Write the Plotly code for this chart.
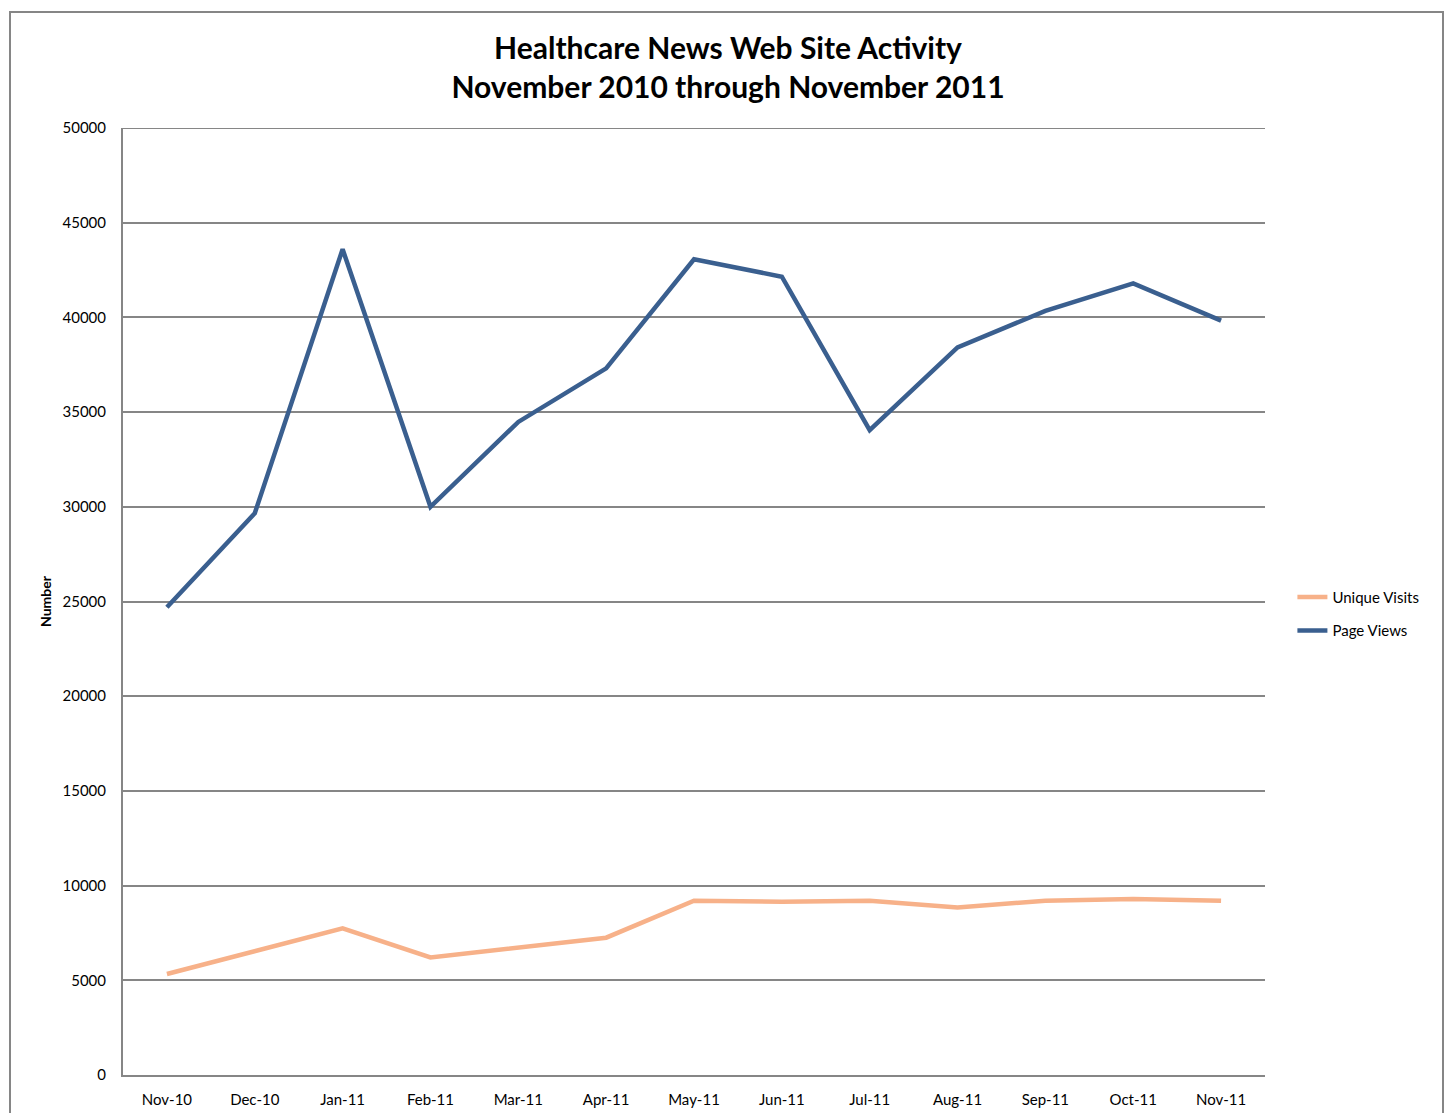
import plotly.graph_objects as go

# Monthly site activity
months = ["Nov-10", "Dec-10", "Jan-11", "Feb-11", "Mar-11", "Apr-11", "May-11",
          "Jun-11", "Jul-11", "Aug-11", "Sep-11", "Oct-11", "Nov-11"]
unique_visits = [5330, 6550, 7745, 6210, 6700, 7250, 9200,
                 9150, 9200, 8850, 9200, 9290, 9200]
page_views = [24700, 29660, 43600, 30000, 34480, 37310, 43070,
              42150, 34050, 38420, 40340, 41800, 39830]
y_ticks = [0, 5000, 10000, 15000, 20000, 25000, 30000, 35000, 40000, 45000, 50000]

FONT = "Lato, 'Open Sans', sans-serif"
GRID = "#868686"

fig = go.Figure()
fig.add_trace(go.Scatter(
    x=months, y=unique_visits, name="Unique Visits", mode="lines",
    legendgroup="uv", line=dict(color="#F7B189", width=4.5),
))
fig.add_trace(go.Scatter(
    x=months, y=page_views, name="Page Views", mode="lines",
    legendgroup="pv", line=dict(color="#3A5F8F", width=4.5),
))

fig.update_layout(
    width=1448, height=1113,
    margin=dict(l=123, r=183, t=128, b=38, autoexpand=False),
    paper_bgcolor="white", plot_bgcolor="white",
    font=dict(family=FONT, size=15, color="black"),
    title=dict(
        text="<b>Healthcare News Web Site Activity<br>November 2010 through November 2011</b>",
        x=728 / 1448, xanchor="center", xref="container",
        y=1 - 59 / 1113, yanchor="middle", yref="container",
        font=dict(family=FONT, size=30, color="black"),
    ),
    showlegend=True,
    legend=dict(
        x=1.024, xanchor="left", y=0.487, yanchor="middle",
        font=dict(family=FONT, size=15, color="black"),
        bgcolor="rgba(0,0,0,0)", tracegroupgap=11,
    ),
    xaxis=dict(
        type="category", range=[-0.5, 12.5], automargin=False,
        showgrid=False, showline=True, linecolor=GRID, linewidth=2,
        ticks="outside", ticklen=10, tickcolor="rgba(0,0,0,0)",
        tickfont=dict(family=FONT, size=15),
        fixedrange=True,
    ),
    yaxis=dict(
        range=[0, 50000], tickvals=y_ticks, ticktext=[str(v) for v in y_ticks],
        automargin=False,
        showgrid=True, gridcolor=GRID, gridwidth=2,
        showline=True, linecolor=GRID, linewidth=2, zeroline=False,
        ticks="outside", ticklen=12, tickcolor="rgba(0,0,0,0)",
        tickfont=dict(family=FONT, size=15),
        title=dict(text="<b>Number</b>", font=dict(family=FONT, size=14), standoff=8),
        fixedrange=True,
    ),
)

# Top gridline at the range maximum
fig.add_shape(
    type="line", xref="paper", yref="y", x0=0, x1=1, y0=50000, y1=50000,
    line=dict(color=GRID, width=2), layer="below",
)

# Outer chart border
fig.add_shape(
    type="rect", xref="paper", yref="paper",
    x0=(10 - 123) / 1142, x1=(1443 - 123) / 1142,
    y0=-0.2, y1=(1075 - 12) / 947,
    line=dict(color=GRID, width=2), fillcolor="rgba(0,0,0,0)", layer="below",
)

fig.write_html("out.html")
